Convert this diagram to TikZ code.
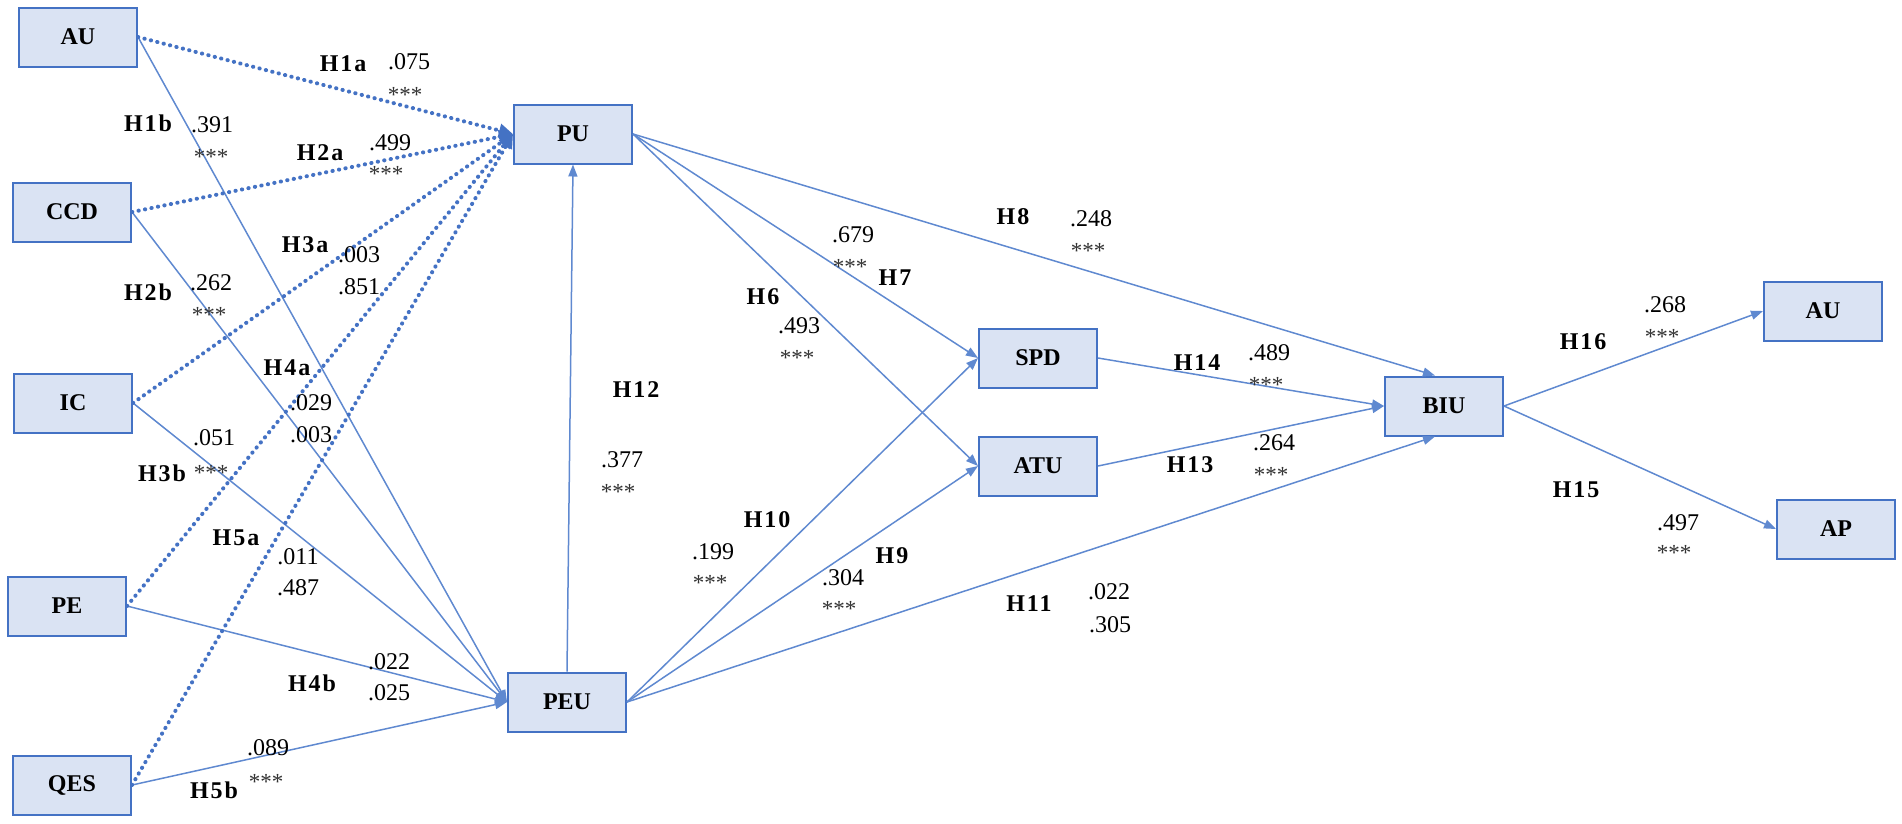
\documentclass[tikz,border=0pt]{standalone}
\usepackage{fontspec}
\setmainfont{Liberation Serif}
\newfontfamily\hfont[LetterSpace=8]{Liberation Serif}
\usetikzlibrary{arrows.meta}
\definecolor{boxfill}{RGB}{218,227,243}
\definecolor{boxline}{RGB}{68,114,196}
\definecolor{lnk}{RGB}{68,114,196}
\definecolor{lnklight}{RGB}{95,137,208}
\definecolor{stargray}{RGB}{50,50,50}
\begin{document}
\begin{tikzpicture}[x=1pt,y=-1pt,
  box/.style={draw=boxline,line width=2pt,fill=boxfill,minimum width=118pt,minimum height=59pt,inner sep=0pt,font=\bfseries\fontsize{24}{28}\selectfont},
  hl/.style={inner sep=0pt,font=\hfont\bfseries\fontsize{24}{28}\selectfont},
  num/.style={inner sep=0pt,font=\fontsize{24}{28}\selectfont},
  stars/.style={inner sep=0pt,text=stargray,yshift=-5pt,font=\fontsize{23}{26}\selectfont},
  sol/.style={draw=lnklight,line width=1.5pt,-{Triangle[length=12pt,width=9pt]}},
  dotl/.style={draw=lnk,line width=4pt,line cap=round,dash pattern=on 0.3pt off 6.3pt,-{Triangle[length=14pt,width=13pt]}}
]
\useasboundingbox (0,0) rectangle (1902,823);

% boxes
\node[box] (AUl) at (78,37) {AU};
\node[box] (CCD) at (72,212) {CCD};
\node[box] (IC) at (73,403) {IC};
\node[box] (PE) at (67,606) {PE};
\node[box] (QES) at (72,785) {QES};
\node[box] (PU) at (573,134) {PU};
\node[box] (PEU) at (567,702) {PEU};
\node[box] (SPD) at (1038,358) {SPD};
\node[box] (ATU) at (1038,466) {ATU};
\node[box] (BIU) at (1444,406) {BIU};
\node[box] (AUr) at (1823,311) {AU};
\node[box] (AP) at (1836,529) {AP};

% solid links from left to PEU
\foreach \s in {AUl,CCD,IC,PE,QES}
  \draw[sol] (\s.east) -- (PEU.west);
% dotted links from left to PU
\foreach \s in {AUl,CCD,IC,PE,QES}
  \draw[dotl] (\s.east) -- (PU.west);

% middle links
\draw[sol] (PEU.north) -- (PU.south);
\draw[sol] (PU.east) -- (SPD.west);
\draw[sol] (PU.east) -- (ATU.west);
\draw[sol] (PU.east) -- ([xshift=-9pt]BIU.north);
\draw[sol] (PEU.east) -- (SPD.west);
\draw[sol] (PEU.east) -- (ATU.west);
\draw[sol] (PEU.east) -- ([xshift=-9pt]BIU.south);
\draw[sol] (SPD.east) -- (BIU.west);
\draw[sol] (ATU.east) -- (BIU.west);
\draw[sol] (BIU.east) -- (AUr.west);
\draw[sol] (BIU.east) -- (AP.west);

% labels left
\node[hl] (h1a) at (343,64) {H1a};
\node[num] (n1a) at (409,62) {.075};
\node[stars] (s1a) at (405,90) {***};
\node[hl] (h1b) at (148,123) {H1b};
\node[num] (n1b) at (212,125) {.391};
\node[stars] (s1b) at (211,152) {***};
\node[hl] (h2a) at (320,153) {H2a};
\node[num] (n2a) at (390,143) {.499};
\node[stars] (s2a) at (386,169) {***};
\node[hl] (h3a) at (305,245) {H3a};
\node[num] (n3a) at (359,255) {.003};
\node[num] (p3a) at (359,287) {.851};
\node[hl] (h2b) at (148,292) {H2b};
\node[num] (n2b) at (211,283) {.262};
\node[stars] (s2b) at (209,310) {***};
\node[hl] (h4a) at (287,368) {H4a};
\node[num] (n4a) at (311,403) {.029};
\node[num] (p4a) at (311,435) {.003};
\node[num] (n3b) at (214,438) {.051};
\node[hl] (h3b) at (162,473) {H3b};
\node[stars] (s3b) at (211,468) {***};
\node[hl] (h5a) at (236,538) {H5a};
\node[num] (n5a) at (298,557) {.011};
\node[num] (p5a) at (298,588) {.487};
\node[num] (n4b) at (389,662) {.022};
\node[hl] (h4b) at (312,683) {H4b};
\node[num] (p4b) at (389,693) {.025};
\node[num] (n5b) at (268,748) {.089};
\node[stars] (s5b) at (266,777) {***};
\node[hl] (h5b) at (214,790) {H5b};

% labels middle
\node[num] (n7) at (853,235) {.679};
\node[stars] (s7) at (850,262) {***};
\node[hl] (h7) at (895,278) {H7};
\node[hl] (h8) at (1013,217) {H8};
\node[num] (n8) at (1091,219) {.248};
\node[stars] (s8) at (1088,246) {***};
\node[hl] (h6) at (763,297) {H6};
\node[num] (n6) at (799,326) {.493};
\node[stars] (s6) at (797,353) {***};
\node[hl] (h12) at (636,390) {H12};
\node[num] (n12) at (622,460) {.377};
\node[stars] (s12) at (618,487) {***};
\node[hl] (h10) at (767,520) {H10};
\node[num] (n10) at (713,552) {.199};
\node[stars] (s10) at (710,578) {***};
\node[hl] (h9) at (892,556) {H9};
\node[num] (n9) at (843,578) {.304};
\node[stars] (s9) at (839,604) {***};
\node[hl] (h11) at (1029,604) {H11};
\node[num] (n11) at (1109,592) {.022};
\node[num] (p11) at (1110,625) {.305};

% labels right
\node[hl] (h14) at (1197,363) {H14};
\node[num] (n14) at (1269,353) {.489};
\node[stars] (s14) at (1266,380) {***};
\node[hl] (h13) at (1190,465) {H13};
\node[num] (n13) at (1274,443) {.264};
\node[stars] (s13) at (1271,470) {***};
\node[hl] (h16) at (1583,342) {H16};
\node[num] (n16) at (1665,305) {.268};
\node[stars] (s16) at (1662,332) {***};
\node[hl] (h15) at (1576,490) {H15};
\node[num] (n15) at (1678,523) {.497};
\node[stars] (s15) at (1674,548) {***};
\end{tikzpicture}
\end{document}
